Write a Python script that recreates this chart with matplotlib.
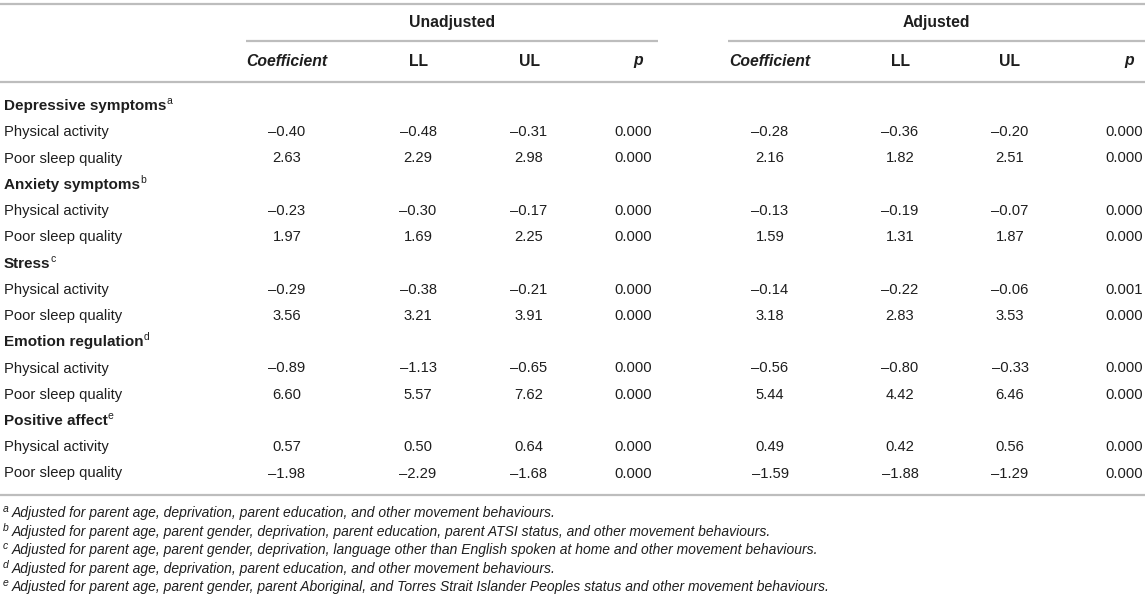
import matplotlib
matplotlib.use("Agg")
import matplotlib.pyplot as plt

# table content
groups = ["Unadjusted", "Adjusted"]
col_heads = ["Coefficient", "LL", "UL", "p"]
outcomes = ["Depressive symptoms", "Anxiety symptoms", "Stress",
            "Emotion regulation", "Positive affect"]
marks = ["a", "b", "c", "d", "e"]
predictors = ["Physical activity", "Poor sleep quality"]

# per outcome: [physical activity row, poor sleep row]
unadj_coef = [[-0.40, 2.63], [-0.23, 1.97], [-0.29, 3.56], [-0.89, 6.60], [0.57, -1.98]]
unadj_ll = [[-0.48, 2.29], [-0.30, 1.69], [-0.38, 3.21], [-1.13, 5.57], [0.50, -2.29]]
unadj_ul = [[-0.31, 2.98], [-0.17, 2.25], [-0.21, 3.91], [-0.65, 7.62], [0.64, -1.68]]
unadj_p = [["0.000", "0.000"], ["0.000", "0.000"], ["0.000", "0.000"], ["0.000", "0.000"], ["0.000", "0.000"]]
adj_coef = [[-0.28, 2.16], [-0.13, 1.59], [-0.14, 3.18], [-0.56, 5.44], [0.49, -1.59]]
adj_ll = [[-0.36, 1.82], [-0.19, 1.31], [-0.22, 2.83], [-0.80, 4.42], [0.42, -1.88]]
adj_ul = [[-0.20, 2.51], [-0.07, 1.87], [-0.06, 3.53], [-0.33, 6.46], [0.56, -1.29]]
adj_p = [["0.000", "0.000"], ["0.000", "0.000"], ["0.001", "0.000"], ["0.000", "0.000"], ["0.000", "0.000"]]

footnotes = [
    "Adjusted for parent age, deprivation, parent education, and other movement behaviours.",
    "Adjusted for parent age, parent gender, deprivation, parent education, parent ATSI status, and other movement behaviours.",
    "Adjusted for parent age, parent gender, deprivation, language other than English spoken at home and other movement behaviours.",
    "Adjusted for parent age, deprivation, parent education, and other movement behaviours.",
    "Adjusted for parent age, parent gender, parent Aboriginal, and Torres Strait Islander Peoples status and other movement behaviours.",
]

W, H = 1145, 605
TXT = "#1e1e1e"
LINE = "#bdbdbd"
FONT = "Liberation Sans"


def fmt(v):
    s = "%.2f" % abs(v)
    return ("\u2013" + s) if v < 0 else s


def main():
    fig = plt.figure(figsize=(W / 100, H / 100), dpi=100)
    ax = fig.add_axes([0, 0, 1, 1])
    ax.set_xlim(0, W)
    ax.set_ylim(H, 0)
    ax.axis("off")
    fig.canvas.draw()
    renderer = fig.canvas.get_renderer()
    inv = ax.transData.inverted()

    cols = [[287, 418, 529, 633], [770, 900, 1010, 1124]]
    group_lines = [(246, 658), (728, 1145)]

    # rules
    for yy in (4, 82, 495):
        ax.plot([0, W], [yy, yy], color=LINE, lw=1.6, solid_capstyle="butt")
    for g, (x0, x1) in zip(groups, group_lines):
        ax.plot([x0, x1], [41, 41], color=LINE, lw=1.6, solid_capstyle="butt")
        ax.text((x0 + x1) / 2, 23, g, ha="center", va="center", fontsize=11.3,
                fontweight="bold", color=TXT, family=FONT)

    for gi in range(2):
        for ci, h in enumerate(col_heads):
            x = cols[gi][ci] if ci != 3 else cols[gi][ci] + 5
            style = "italic" if ci in (0, 3) else "normal"
            ax.text(x, 61, h, ha="center", va="center", fontsize=11.3,
                    fontweight="bold", style=style, color=TXT, family=FONT)

    y0 = 106
    step = 26.25
    row = 0
    for oi, name in enumerate(outcomes):
        y = y0 + row * step
        t = ax.text(4, y, name, ha="left", va="center", fontsize=11,
                    fontweight="bold", color=TXT, family=FONT)
        bb = t.get_window_extent(renderer)
        xr = inv.transform((bb.x1, bb.y1))[0]
        ax.text(xr, y - 5, marks[oi], ha="left", va="center",
                fontsize=7.5, color=TXT, family=FONT)
        row += 1
        for pi, pred in enumerate(predictors):
            y = y0 + row * step
            ax.text(4, y, pred, ha="left", va="center", fontsize=10.6,
                    color=TXT, family=FONT)
            vals = [fmt(unadj_coef[oi][pi]), fmt(unadj_ll[oi][pi]),
                    fmt(unadj_ul[oi][pi]), unadj_p[oi][pi],
                    fmt(adj_coef[oi][pi]), fmt(adj_ll[oi][pi]),
                    fmt(adj_ul[oi][pi]), adj_p[oi][pi]]
            for k, v in enumerate(vals):
                x = cols[k // 4][k % 4]
                ax.text(x, y, v, ha="center", va="center", fontsize=10.6,
                        color=TXT, family=FONT)
            row += 1

    fy = 513
    for i, note in enumerate(footnotes):
        y = fy + i * 18.6
        ax.text(2.5, y - 4, marks[i], ha="left", va="center", fontsize=7.5,
                style="italic", color=TXT, family=FONT)
        ax.text(11.5, y, note, ha="left", va="center", fontsize=10,
                style="italic", color=TXT, family=FONT)

    plt.savefig("out.png", dpi=100)
    plt.close()


if __name__ == '__main__':
    main()
